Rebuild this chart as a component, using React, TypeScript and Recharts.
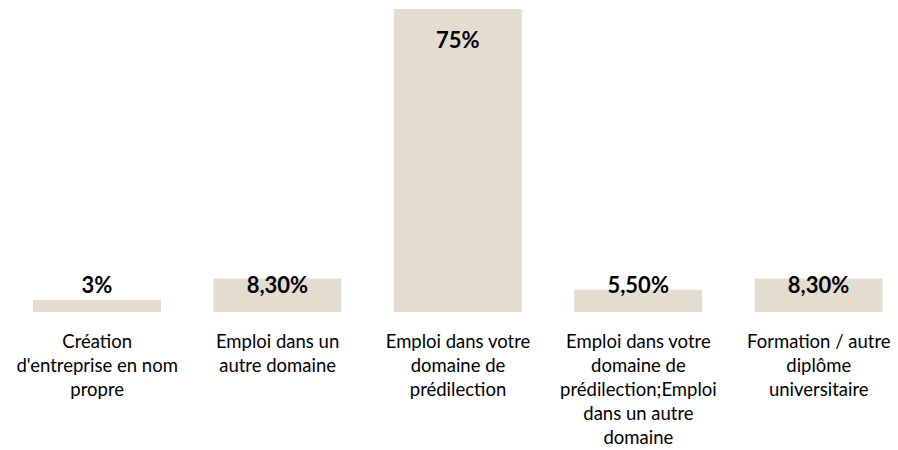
import React from "react";
import { BarChart, Bar, XAxis, YAxis, LabelList } from "recharts";

const categories = [
  "Création d'entreprise en nom propre",
  "Emploi dans un autre domaine",
  "Emploi dans votre domaine de prédilection",
  "Emploi dans votre domaine de prédilection;Emploi dans un autre domaine",
  "Formation / autre diplôme universitaire",
];
const values = [3, 8.3, 75, 5.5, 8.3];
const valueLabels = ["3%", "8,30%", "75%", "5,50%", "8,30%"];
const tickLines = [
  ["Création", "d'entreprise en nom", "propre"],
  ["Emploi dans un", "autre domaine"],
  ["Emploi dans votre", "domaine de", "prédilection"],
  ["Emploi dans votre", "domaine de", "prédilection;Emploi", "dans un autre", "domaine"],
  ["Formation / autre", "diplôme", "universitaire"],
];

const data = categories.map((c, i) => ({ name: c, value: values[i], label: valueLabels[i], idx: i }));

const FONT = "Lato, 'Noto Sans', sans-serif";

const Tick = (props: any) => {
  const { x, y, payload } = props;
  const lines = tickLines[payload.index] || [String(payload.value)];
  return (
    <text x={x} y={y + 36} textAnchor="middle" fill="#000" fontFamily={FONT} fontSize={18.5}>
      {lines.map((l: string, i: number) => (
        <tspan key={i} x={x} dy={i === 0 ? 0 : 24}>
          {l}
        </tspan>
      ))}
    </text>
  );
};

const ValueLabel = (props: any) => {
  const { x, y, width, height, index } = props;
  const baseline = Math.min(y + 39, y + height - 19);
  return (
    <text x={x + width / 2} y={baseline} textAnchor="middle" fill="#000" fontFamily={FONT} fontWeight="bold" fontSize={22}>
      {valueLabels[index]}
    </text>
  );
};

export default function App() {
  return (
    <div style={{ position: "absolute", left: 0, top: 0, width: 898, height: 450, overflow: "hidden", background: "#fff" }}>
      <BarChart
        width={916}
        height={450}
        data={data}
        margin={{ top: 9, right: 7, bottom: 8, left: 7 }}
        barSize={128}
      >
        <XAxis
          dataKey="name"
          axisLine={false}
          tickLine={false}
          tickSize={0}
          tickMargin={0}
          height={130}
          interval={0}
          tick={<Tick />}
        />
        <YAxis hide domain={[0, 75]} />
        <Bar dataKey="value" fill="#e3ddd1" isAnimationActive={false}>
          <LabelList dataKey="label" content={<ValueLabel />} />
        </Bar>
      </BarChart>
    </div>
  );
}
